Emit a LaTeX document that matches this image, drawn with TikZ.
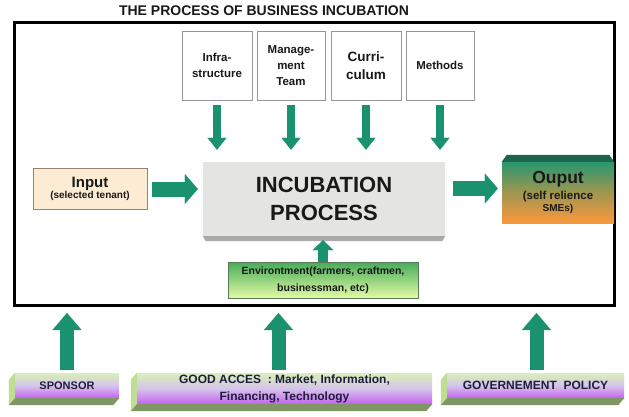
\documentclass[tikz,border=0pt]{standalone}
\usepackage{fontspec}
\setmainfont{Liberation Sans}
\usetikzlibrary{arrows.meta,shadows}
\definecolor{arrgreen}{RGB}{26,146,112}
\definecolor{txt}{RGB}{25,25,25}
\definecolor{navy}{RGB}{30,30,60}
\definecolor{boxgray}{RGB}{150,150,150}
\definecolor{peach}{RGB}{252,236,212}
\definecolor{peachedge}{RGB}{150,130,110}
\definecolor{incgray}{RGB}{228,228,226}
\definecolor{incshade}{RGB}{170,170,168}
\definecolor{outtop}{RGB}{40,150,110}
\definecolor{outmid}{RGB}{160,150,80}
\definecolor{outbot}{RGB}{250,152,60}
\definecolor{outcap}{RGB}{30,100,75}
\definecolor{envtop}{RGB}{70,172,90}
\definecolor{envbot}{RGB}{228,250,165}
\definecolor{envedge}{RGB}{90,120,90}
\definecolor{bartop}{RGB}{216,240,182}
\definecolor{barmid}{RGB}{214,196,236}
\definecolor{barbot}{RGB}{196,100,240}
\definecolor{barside}{RGB}{190,222,150}
\definecolor{barbase}{RGB}{128,150,100}
\newcommand\fs[2]{\fontsize{#1}{#2}\selectfont}
\newcommand\extrude[1]{%
  \fill[barside] (#1.north west) -- ([xshift=-6pt,yshift=-7pt]#1.north west) -- ([xshift=-6pt,yshift=-7pt]#1.south west) -- (#1.south west) -- cycle;
  \fill[barbase] (#1.south west) -- ([xshift=-6pt,yshift=-7pt]#1.south west) -- ([xshift=-6pt,yshift=-7pt]#1.south east) -- (#1.south east) -- cycle;}
\begin{document}
\begin{tikzpicture}[x=1pt,y=-1pt,
  topbox/.style={draw=boxgray, fill=white, line width=0.7pt, minimum height=69pt, inner sep=1pt, align=center, text=txt, font=\bfseries\fs{11.5}{16}, drop shadow={shadow xshift=1.2pt, shadow yshift=-1.2pt, opacity=0.35}},
  downarr/.style={draw=arrgreen, line width=8pt, -{Triangle[width=19pt,length=12pt,line width=0.1pt]}},
  bigarr/.style={draw=arrgreen, line width=15pt, -{Triangle[width=30pt,length=13pt,line width=0.1pt]}},
  uparr/.style={draw=arrgreen, line width=14pt, -{Triangle[width=29pt,length=17pt,line width=0.1pt]}},
  envarr/.style={draw=arrgreen, line width=10pt, -{Triangle[width=21pt,length=10pt,line width=0.1pt]}},
  barbox/.style={top color=bartop, bottom color=barbot, middle color=barmid, text=navy, align=center, inner sep=1pt, font=\bfseries\fs{11}{16}}
]
\useasboundingbox (0,0) rectangle (629,416);
\fill[white] (0,0) rectangle (629,416);
\node[font=\bfseries\fs{14}{16}, text=txt] (title) at (264,11) {THE PROCESS OF BUSINESS INCUBATION};
\node[draw=black, line width=3pt, minimum width=600pt, minimum height=283pt, inner sep=0pt] (frame) at (314,163.5) {};

\node[topbox, minimum width=70pt] (infra) at (217,65.5) {Infra-\\structure};
\node[topbox, minimum width=68pt] (mgmt) at (291,65.5) {Manage-\\ment\\Team};
\node[topbox, minimum width=70pt, font=\bfseries\fs{13.5}{18}] (curri) at (366,65.5) {Curri-\\culum};
\node[topbox, minimum width=68pt] (meth) at (440,65.5) {Methods};

\node[fill=incgray, minimum width=242pt, minimum height=74pt, align=center, font=\bfseries\fs{22}{28}, text=txt] (incub) at (324,199) {INCUBATION\\PROCESS};
\fill[incshade] (incub.south west) -- ([xshift=3pt,yshift=-5pt]incub.south west) -- ([xshift=-3pt,yshift=-5pt]incub.south east) -- (incub.south east) -- cycle;

\node[draw=peachedge, fill=peach, line width=0.6pt, minimum width=114pt, minimum height=41pt, align=center, text=txt, inner sep=1pt, font=\bfseries] (input) at (90,189) {\fs{15}{17}Input\\[-1pt]\fs{10}{12}(selected tenant)};

\node[top color=outtop, bottom color=outbot, middle color=outmid, minimum width=112pt, minimum height=61pt, align=center, text=txt, inner sep=1pt, font=\bfseries] (out) at (558,192.5) {\fs{17.5}{19}Ouput\\[4pt]\fs{11.5}{15}(self relience\\SMEs)};
\fill[outcap] (out.north west) -- ([xshift=5pt,yshift=7pt]out.north west) -- ([xshift=-5pt,yshift=7pt]out.north east) -- (out.north east) -- cycle;

\node[draw=envedge, line width=0.5pt, top color=envtop, bottom color=envbot, minimum width=190pt, minimum height=36pt, align=center, text=txt, font=\bfseries\fs{10.5}{17}, inner sep=1pt] (env) at (323,280) {Environtment(farmers, craftmen,\\businessman, etc)};

\node[barbox, minimum width=104pt, minimum height=25pt] (spon) at (67,385.5) {SPONSOR};
\node[barbox, minimum width=295pt, minimum height=31pt, font=\bfseries\fs{12}{17}] (good) at (284.5,388.5) {GOOD ACCES\ \ : Market, Information,\\Financing, Technology};
\node[barbox, minimum width=177pt, minimum height=25pt, font=\bfseries\fs{12}{16}] (gov) at (535.5,385.5) {GOVERNEMENT\ \ POLICY};
\extrude{spon}
\extrude{good}
\extrude{gov}

\foreach \n in {infra,mgmt,curri,meth}
  \draw[downarr, shorten <=5pt, shorten >=12pt] (\n.south) -- (\n.south |- incub.north);
\draw[bigarr, shorten <=5pt, shorten >=5pt] (input.east) -- (input.east -| incub.west);
\coordinate (outin) at ([yshift=4pt]out.west);
\draw[bigarr, shorten <=8pt, shorten >=4pt] (outin -| incub.east) -- (outin);
\draw[envarr, shorten >=4pt] (env.north) -- (env.north |- incub.south);
\coordinate (goodtop) at ([xshift=-6pt]good.north);
\coordinate (govtop) at ([xshift=1pt]gov.north);
\draw[uparr, shorten <=3pt, shorten >=6.5pt] (spon.north) -- (spon.north |- frame.south);
\draw[uparr, shorten <=3pt, shorten >=6.5pt] (goodtop) -- (goodtop |- frame.south);
\draw[uparr, shorten <=3pt, shorten >=6.5pt] (govtop) -- (govtop |- frame.south);
\end{tikzpicture}
\end{document}
